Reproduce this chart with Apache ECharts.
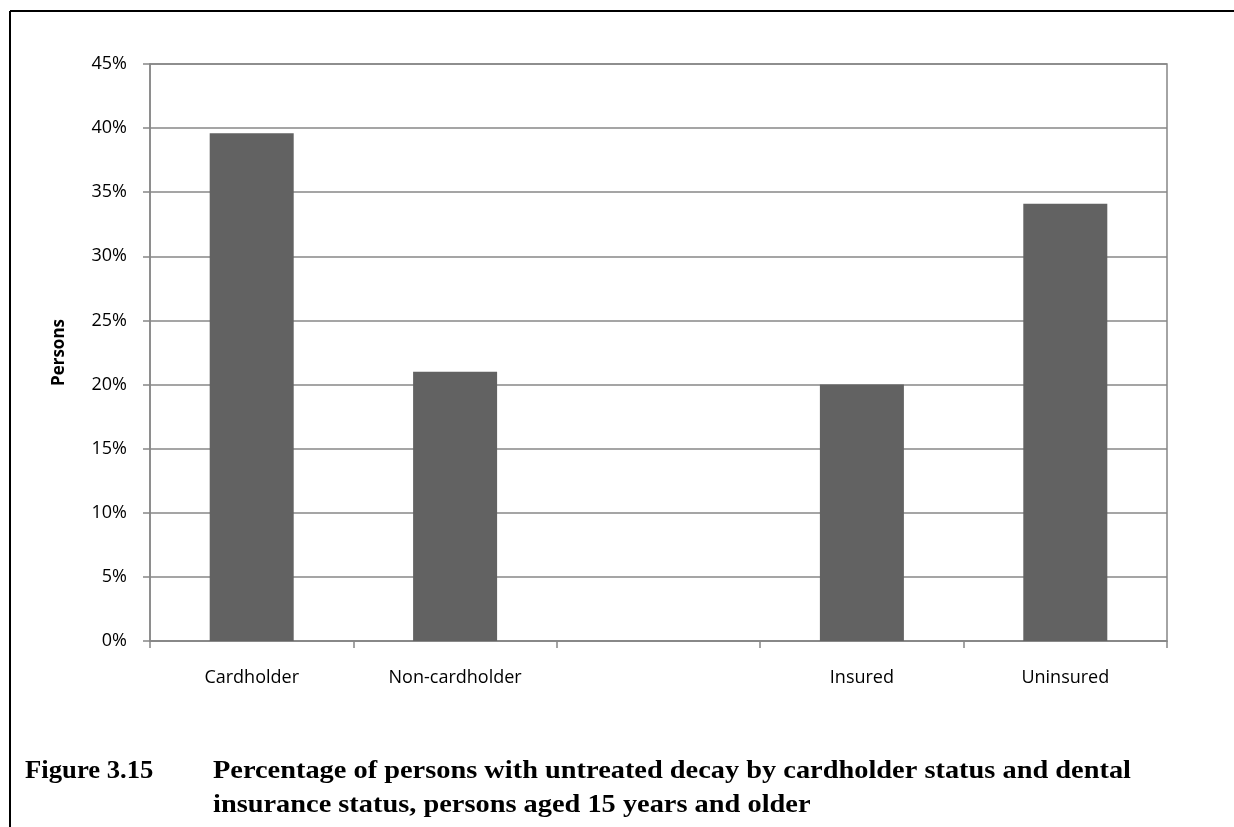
<!DOCTYPE html>
<html>
<head>
<meta charset="utf-8">
<script src="https://cdn.jsdelivr.net/npm/echarts@6/dist/echarts.min.js"></script>
<style>
html,body{margin:0;padding:0;background:#fff;}
#chart{width:1234px;height:827px;}
</style>
</head>
<body>
<div id="chart"></div>
<script>
const categories = ['Cardholder', 'Non-cardholder', '', 'Insured', 'Uninsured'];
const values = [39.6, 21.0, null, 20.0, 34.1];
const yTicks = { min: 0, max: 45, interval: 5 };
const axisTitle = 'Persons';
const captionLabel = 'Figure 3.15';
const captionLines = [
  'Percentage of persons with untreated decay by cardholder status and dental',
  'insurance status, persons aged 15 years and older'
];

const chart = echarts.init(document.getElementById('chart'), null, { renderer: 'canvas' });
const gridColor = '#878787';
const labelFont = 'Open Sans';
const captionFont = 'bold 25px "Liberation Serif"';

chart.setOption({
  animation: false,
  backgroundColor: '#ffffff',
  grid: {
    left: 150, right: 67, top: 64, bottom: 186,
    show: true, borderColor: gridColor, borderWidth: 1.5, backgroundColor: 'transparent'
  },
  xAxis: {
    type: 'category',
    data: categories,
    boundaryGap: true,
    axisLine: { show: true, lineStyle: { color: gridColor, width: 1.5 } },
    axisTick: { show: true, length: 7, lineStyle: { color: gridColor, width: 1.5 } },
    axisLabel: { margin: 28, color: '#000', fontFamily: labelFont, fontSize: 18 },
    splitLine: { show: false }
  },
  yAxis: {
    type: 'value',
    min: yTicks.min, max: yTicks.max, interval: yTicks.interval,
    name: axisTitle,
    nameLocation: 'middle',
    nameGap: 82,
    nameTextStyle: { color: '#000', fontFamily: labelFont, fontSize: 17, fontWeight: 'bold' },
    axisLine: { show: true, lineStyle: { color: gridColor, width: 1.5 } },
    axisTick: { show: true, length: 7, lineStyle: { color: gridColor, width: 1.5 } },
    axisLabel: { margin: 23, color: '#000', fontFamily: labelFont, fontSize: 18, formatter: '{value}%' },
    splitLine: { show: true, lineStyle: { color: gridColor, width: 1.5 } }
  },
  series: [{
    type: 'bar',
    data: values,
    barWidth: '41.3%',
    itemStyle: { color: '#626262' }
  }],
  graphic: [
    { type: 'line', shape: { x1: 10, y1: 11, x2: 1234, y2: 11 }, style: { stroke: '#000', lineWidth: 2 } },
    { type: 'line', shape: { x1: 10, y1: 11, x2: 10, y2: 827 }, style: { stroke: '#000', lineWidth: 2 } },
    { type: 'text', x: 25, y: 772, scaleX: 1.067, style: { text: captionLabel, fill: '#000', font: captionFont, align: 'left', verticalAlign: 'middle' } },
    { type: 'text', x: 213, y: 772, scaleX: 1.135, style: { text: captionLines[0], fill: '#000', font: captionFont, align: 'left', verticalAlign: 'middle' } },
    { type: 'text', x: 213, y: 806, scaleX: 1.135, style: { text: captionLines[1], fill: '#000', font: captionFont, align: 'left', verticalAlign: 'middle' } }
  ]
});
</script>
</body>
</html>
